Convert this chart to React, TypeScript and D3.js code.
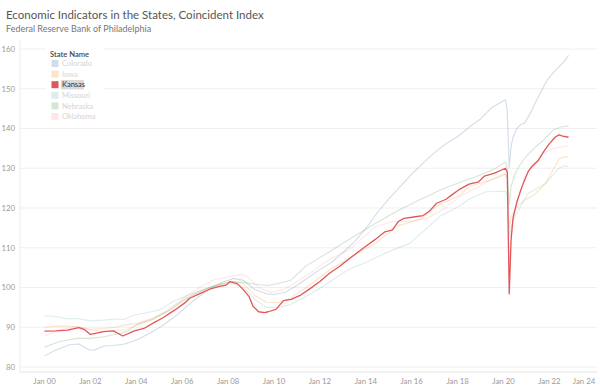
import * as d3 from "d3";

// chart values (index, monthly samples)
const states = ["Colorado", "Iowa", "Kansas", "Missouri", "Nebraska", "Oklahoma"];
const stateColors = ["#4e79a7", "#f28e2b", "#e15759", "#76b7b2", "#59a14f", "#ff9da7"];
const highlighted = "Kansas";

const yTicks = [80, 90, 100, 110, 120, 130, 140, 150, 160];
const xTickYears = [2000, 2002, 2004, 2006, 2008, 2010, 2012, 2014, 2016, 2018, 2020, 2022, 2024];

type Pt = [string, number];

const colorado: Pt[] = [
  ["2000-01", 82.8], ["2000-07", 84.3], ["2001-02", 85.6], ["2001-07", 85.8], ["2001-12", 84.4],
  ["2002-03", 84.2], ["2002-08", 85.3], ["2003-01", 85.4], ["2003-07", 85.8], ["2004-01", 86.8],
  ["2004-08", 88.5], ["2005-03", 90.5], ["2005-10", 93.0], ["2006-04", 95.5], ["2006-10", 97.8],
  ["2007-04", 99.8], ["2007-10", 101.3], ["2008-04", 102.3], ["2008-09", 101.8], ["2009-03", 99.5],
  ["2009-09", 98.4], ["2010-01", 98.3], ["2010-07", 98.8], ["2011-01", 100.5], ["2011-07", 102.5],
  ["2012-01", 104.5], ["2012-07", 106.3], ["2013-01", 108.8], ["2013-07", 111.5], ["2014-01", 114.8],
  ["2014-07", 118.8], ["2015-01", 122.3], ["2015-07", 125.4], ["2016-01", 128.5], ["2016-07", 131.3],
  ["2017-01", 134.0], ["2017-07", 136.2], ["2018-01", 138.0], ["2018-07", 140.3], ["2019-01", 142.4],
  ["2019-07", 145.3], ["2020-01", 147.0], ["2020-02", 147.2], ["2020-03", 144.5], ["2020-04", 130.2],
  ["2020-05", 135.5], ["2020-06", 137.8], ["2020-08", 140.0], ["2020-10", 141.0], ["2020-12", 141.3],
  ["2021-03", 143.8], ["2021-06", 146.8], ["2021-09", 149.6], ["2021-12", 152.3], ["2022-03", 154.0],
  ["2022-06", 155.5], ["2022-09", 157.0], ["2022-11", 158.4],
];

const iowa: Pt[] = [
  ["2000-01", 90.0], ["2000-09", 90.3], ["2001-06", 90.2], ["2002-01", 89.5], ["2002-08", 89.7],
  ["2003-02", 90.0], ["2003-07", 90.6], ["2004-01", 91.0], ["2004-10", 92.3], ["2005-07", 94.3],
  ["2006-03", 97.0], ["2006-10", 98.8], ["2007-06", 100.5], ["2008-03", 101.5], ["2008-09", 101.0],
  ["2009-03", 98.0], ["2009-09", 96.3], ["2010-03", 96.2], ["2010-09", 97.2], ["2011-06", 100.0],
  ["2012-06", 104.4], ["2013-04", 107.3], ["2014-06", 111.1], ["2015-06", 115.5], ["2016-06", 117.3],
  ["2017-03", 120.8], ["2018-02", 123.1], ["2018-07", 125.4], ["2019-06", 127.0], ["2020-01", 128.3],
  ["2020-02", 128.5], ["2020-03", 127.5], ["2020-04", 115.0], ["2020-05", 117.8], ["2020-07", 119.5],
  ["2020-09", 120.8], ["2020-12", 122.0], ["2021-05", 123.3], ["2021-11", 126.2], ["2022-03", 129.6],
  ["2022-06", 132.3], ["2022-09", 132.9], ["2022-11", 132.8],
];

const kansas: Pt[] = [
  ["2000-01", 89.0], ["2000-07", 89.1], ["2001-01", 89.3], ["2001-07", 89.9], ["2001-10", 89.4],
  ["2002-01", 88.2], ["2002-08", 88.9], ["2003-01", 89.1], ["2003-06", 87.8], ["2003-12", 89.1],
  ["2004-05", 89.7], ["2004-10", 91.1], ["2005-03", 92.4], ["2005-09", 94.3], ["2006-02", 96.0],
  ["2006-05", 97.3], ["2006-10", 98.4], ["2007-03", 99.5], ["2007-08", 100.2], ["2007-12", 100.6],
  ["2008-02", 101.5], ["2008-06", 100.9], ["2008-09", 99.4], ["2008-12", 97.7], ["2009-02", 95.3],
  ["2009-05", 93.9], ["2009-08", 93.7], ["2009-10", 93.9], ["2010-02", 94.5], ["2010-06", 96.7],
  ["2010-10", 97.0], ["2011-03", 98.1], ["2011-07", 99.4], ["2012-01", 101.5], ["2012-06", 103.6],
  ["2012-11", 105.2], ["2013-04", 107.1], ["2014-01", 110.4], ["2014-06", 112.1], ["2014-11", 114.0],
  ["2015-03", 114.5], ["2015-06", 116.6], ["2015-09", 117.4], ["2016-03", 117.8], ["2016-07", 118.1],
  ["2016-10", 119.1], ["2017-02", 121.2], ["2017-07", 122.2], ["2017-10", 123.3], ["2018-02", 124.7],
  ["2018-07", 126.0], ["2018-12", 126.6], ["2019-03", 128.0], ["2019-08", 128.7], ["2020-02", 130.0],
  ["2020-03", 129.0], ["2020-04", 98.4], ["2020-05", 112.0], ["2020-06", 117.5], ["2020-07", 119.5],
  ["2020-08", 121.5], ["2020-10", 124.5], ["2020-12", 127.0], ["2021-02", 129.3], ["2021-04", 130.5],
  ["2021-07", 131.8], ["2021-10", 134.2], ["2022-01", 136.2], ["2022-04", 137.8], ["2022-06", 138.4],
  ["2022-08", 138.1], ["2022-11", 137.8],
];

const missouri: Pt[] = [
  ["2000-01", 92.9], ["2000-07", 92.7], ["2001-01", 92.1], ["2001-06", 92.2], ["2002-01", 91.6],
  ["2002-08", 91.8], ["2003-01", 92.0], ["2003-07", 92.0], ["2003-12", 93.1], ["2004-07", 93.7],
  ["2005-01", 94.3], ["2005-08", 96.4], ["2006-02", 97.7], ["2006-08", 98.8], ["2007-03", 100.0],
  ["2007-09", 100.6], ["2008-03", 101.0], ["2008-09", 100.0], ["2009-03", 97.0], ["2009-09", 95.0],
  ["2010-03", 95.0], ["2010-09", 95.6], ["2011-03", 97.0], ["2011-09", 98.6], ["2012-03", 100.4],
  ["2012-07", 101.7], ["2013-04", 104.5], ["2014-01", 106.3], ["2014-07", 107.7], ["2015-03", 109.4],
  ["2015-12", 111.1], ["2016-08", 114.5], ["2017-04", 118.0], ["2018-02", 120.5], ["2018-07", 122.2],
  ["2019-04", 124.1], ["2020-02", 124.2], ["2020-03", 123.0], ["2020-04", 113.0], ["2020-05", 115.3],
  ["2020-07", 117.8], ["2020-10", 120.5], ["2021-02", 123.7], ["2021-11", 126.2], ["2022-06", 130.0],
  ["2022-09", 130.6], ["2022-11", 130.4],
];

const nebraska: Pt[] = [
  ["2000-01", 85.0], ["2000-09", 86.4], ["2001-06", 87.2], ["2002-01", 87.2], ["2002-08", 87.6],
  ["2003-03", 88.3], ["2003-08", 88.9], ["2004-01", 90.6], ["2004-09", 91.8], ["2005-06", 94.3],
  ["2006-03", 97.3], ["2006-10", 99.0], ["2007-06", 100.5], ["2008-03", 101.5], ["2008-09", 101.3],
  ["2009-03", 100.8], ["2009-10", 100.5], ["2010-06", 101.3], ["2010-10", 101.9], ["2011-06", 105.5],
  ["2012-06", 109.0], ["2013-04", 112.0], ["2014-06", 116.1], ["2015-05", 119.1], ["2016-05", 122.0],
  ["2017-04", 124.5], ["2018-02", 126.4], ["2019-01", 128.3], ["2019-09", 130.0], ["2020-01", 131.3],
  ["2020-02", 131.6], ["2020-03", 130.0], ["2020-04", 120.8], ["2020-05", 125.4], ["2020-07", 128.5],
  ["2020-09", 130.4], ["2020-12", 132.5], ["2021-05", 135.0], ["2021-10", 137.1], ["2022-03", 139.6],
  ["2022-08", 140.5], ["2022-11", 140.6],
];

const oklahoma: Pt[] = [
  ["2000-01", 87.8], ["2000-09", 89.4], ["2001-06", 90.0], ["2002-01", 89.3], ["2002-08", 89.0],
  ["2003-03", 89.2], ["2003-08", 89.4], ["2004-01", 90.6], ["2004-09", 92.0], ["2005-06", 94.5],
  ["2006-03", 97.8], ["2006-10", 100.0], ["2007-06", 102.0], ["2008-03", 102.8], ["2008-08", 103.3],
  ["2008-11", 102.8], ["2009-05", 100.0], ["2009-11", 98.8], ["2010-06", 99.4], ["2011-01", 101.5],
  ["2011-09", 104.0], ["2012-06", 107.1], ["2013-04", 109.4], ["2014-06", 115.3], ["2015-03", 116.6],
  ["2015-12", 116.6], ["2016-09", 117.4], ["2017-05", 119.5], ["2018-02", 122.8], ["2018-07", 124.1],
  ["2019-06", 127.0], ["2020-02", 128.7], ["2020-03", 127.5], ["2020-04", 106.0], ["2020-05", 114.0],
  ["2020-07", 119.5], ["2020-10", 124.0], ["2020-12", 127.9], ["2021-05", 131.2], ["2021-10", 133.8],
  ["2022-03", 135.0], ["2022-08", 135.4], ["2022-11", 135.6],
];

const seriesValues = [colorado, iowa, kansas, missouri, nebraska, oklahoma];

const W = 600;
const H = 392;
const FONT = "Lato, 'Open Sans', sans-serif";

export default function App() {
  const parse = d3.timeParse("%Y-%m");
  const frame = { left: 20, right: 597, top: 40, bottom: 372 };

  const x = d3
    .scaleTime()
    .domain([new Date(2000, 0, 1), new Date(2024, 0, 1)])
    .range([44.5, 595.3]);
  const y = d3.scaleLinear().domain([80, 160]).range([367, 49]);

  const line = d3
    .line<Pt>()
    .x((d) => x(parse(d[0]) as Date))
    .y((d) => y(d[1]));

  const color = d3.scaleOrdinal<string, string>().domain(states).range(stateColors);

  // faded ones first, highlighted state drawn last
  const order = states
    .map((s, i) => ({ name: s, data: seriesValues[i] }))
    .sort((a, b) => (a.name === highlighted ? 1 : 0) - (b.name === highlighted ? 1 : 0));

  const legendRow = d3.scaleLinear().domain([0, 1]).range([63.5, 74.1]);

  return (
    <svg
      width={W}
      height={H}
      style={{ position: "absolute", left: 0, top: 0, display: "block", background: "#fff" }}
      fontFamily={FONT}
    >
      <text x={6} y={19} fontSize={11.5} fill="#555">
        Economic Indicators in the States, Coincident Index
      </text>
      <text x={6} y={31.5} fontSize={9} fill="#777">
        Federal Reserve Bank of Philadelphia
      </text>

      {/* gridlines */}
      {yTicks.map((t) => (
        <line key={t} x1={frame.left} x2={frame.right} y1={y(t)} y2={y(t)} stroke="#efefef" strokeWidth={1} />
      ))}
      <line x1={frame.left} x2={frame.left} y1={frame.top} y2={frame.bottom} stroke="#ececec" />
      <line x1={frame.left} x2={frame.right} y1={frame.bottom} y2={frame.bottom} stroke="#e4e4e4" />

      {yTicks.map((t) => (
        <text key={t} x={15} y={y(t) + 2.8} fontSize={7.8} fill="#9a9a9a" textAnchor="end">
          {t}
        </text>
      ))}
      {xTickYears.map((yr) => {
        const px = Math.min(x(new Date(yr, 0, 1)), 584);
        return (
          <text key={yr} x={px} y={384} fontSize={7.8} fill="#9a9a9a" textAnchor="middle">
            {`Jan ${String(yr % 100).padStart(2, "0")}`}
          </text>
        );
      })}

      {/* legend background */}
      <rect x={46} y={45} width={58} height={79} fill="#fff" />

      {order.map((s) => {
        const hi = s.name === highlighted;
        return (
          <path
            key={s.name}
            d={line(s.data) || ""}
            fill="none"
            stroke={color(s.name)}
            strokeOpacity={hi ? 1 : 0.25}
            strokeWidth={hi ? 1.3 : 1.1}
            strokeLinejoin="round"
          />
        );
      })}

      {/* legend */}
      <text x={50} y={57} fontSize={7.6} fill="#444" fontWeight={600}>
        State Name
      </text>
      {states.map((s, i) => {
        const hi = s === highlighted;
        const cy = legendRow(i);
        return (
          <g key={s}>
            <rect x={51.5} y={cy - 3.5} width={7} height={7} fill={color(s)} fillOpacity={hi ? 1 : 0.25} />
            {hi && <rect x={61} y={cy - 4.6} width={23} height={9.3} fill="#d9d9d9" />}
            <text x={62} y={cy + 2.7} fontSize={7.5} fill={hi ? "#333" : "#d4d4d4"}>
              {s}
            </text>
          </g>
        );
      })}
    </svg>
  );
}
